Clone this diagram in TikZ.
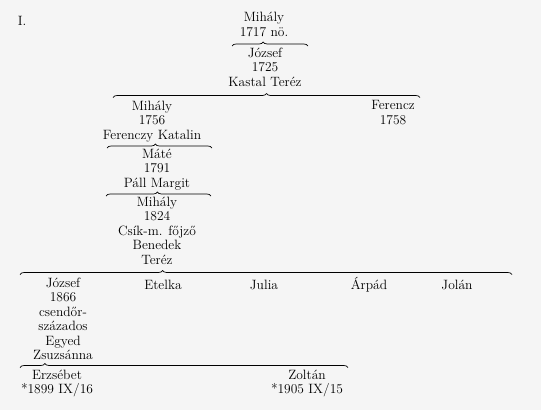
\documentclass[tikz,border=0pt]{standalone}
\usetikzlibrary{decorations.pathreplacing}
\begin{document}
\begin{tikzpicture}[x=1pt, y=-1pt,
    person/.style={align=center, anchor=north, inner sep=0pt,
      font=\fontsize{13.5}{14.5}\selectfont, execute at begin node=\vphantom{Á}},
    famline/.style={decorate, decoration={brace, amplitude=4pt, aspect=#1}, line width=.7pt}]
  \fill[black!4] (0,0) rectangle (541,410);
  \useasboundingbox (0,0) rectangle (541,410);
  % table number
  \node[anchor=base, inner sep=0pt, font=\fontsize{13.5}{14.5}\selectfont] (num) at (22,25) {I.};
  % first generations
  \node[person] (mihaly1) at (264,12) {Mihály\\1717 nö.};
  \node[person] (jozsef1) at (265,47.5) {József\\1725\\Kastal Teréz};
  \node[person] (mihaly2) at (152,100.5) {Mihály\\1756\\Ferenczy Katalin};
  \node[person] (ferencz) at (393,100.5) {Ferencz\\1758};
  \node[person] (mate) at (157,148.5) {Máté\\1791\\Páll Margit};
  \node[person] (mihaly3) at (157,196.5) {Mihály\\1824\\Csík-m. főjző\\Benedek\\Teréz};
  % children of Mihály 1824
  \node[person] (jozsef2) at (63,277.5) {József\\1866\\csendőr-\\százados\\Egyed\\Zsuzsánna};
  \node[person] (etelka) at (163,277.5) {Etelka};
  \node[person] (julia) at (264,277.5) {Julia};
  \node[person] (arpad) at (369,277.5) {Árpád};
  \node[person] (jolan) at (457,277.5) {Jolán};
  % grandchildren
  \node[person] (erzsebet) at (57,369.5) {Erzsébet\\*1899 IX/16};
  \node[person] (zoltan) at (307,369.5) {Zoltán\\*1905 IX/15};
  % brace ends
  \coordinate (b1l) at (232,46);    \coordinate (b1r) at (308,46);
  \coordinate (b2l) at (113,97.5);  \coordinate (b2r) at (420,97.5);
  \coordinate (b3l) at (107,148);   \coordinate (b3r) at (212,148);
  \coordinate (b4l) at (106,196);   \coordinate (b4r) at (211,196);
  \coordinate (b5l) at (20,274.5);  \coordinate (b5r) at (512,274.5);
  \coordinate (b6l) at (20,367.5);  \coordinate (b6r) at (348,367.5);
  \draw[famline=.41] (b1l) -- (b1r);
  \draw[famline=.5] (b2l) -- (b2r);
  \draw[famline=.46] (b3l) -- (b3r);
  \draw[famline=.49] (b4l) -- (b4r);
  \draw[famline=.29] (b5l) -- (b5r);
  \draw[famline=.076] (b6l) -- (b6r);
\end{tikzpicture}
\end{document}
